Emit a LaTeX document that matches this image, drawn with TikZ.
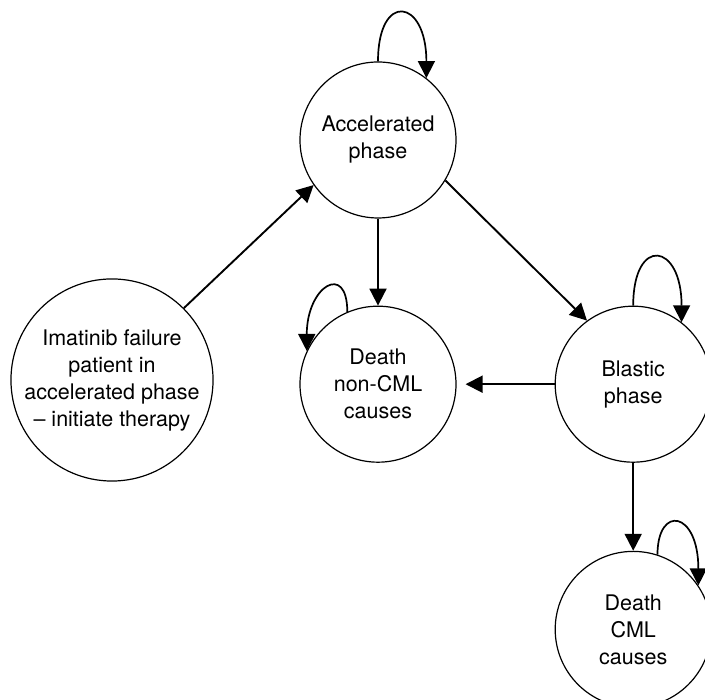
\documentclass[tikz,border=0pt]{standalone}
\usepackage{fontspec}
\setmainfont{TeX Gyre Heros}
\usepackage{tikz}
\usetikzlibrary{arrows.meta, positioning}

\begin{document}
\begin{tikzpicture}[
    x=1pt, y=1pt,
    % states and transitions
    state/.style={draw, circle, line width=1.2pt, minimum size=156pt, inner sep=0pt,
        align=center, font=\fontsize{21.5}{27}\selectfont},
    startstate/.style={state, minimum size=200pt},
    trans/.style={-{Triangle[length=17pt, width=17pt]}, line width=1.9pt},
    selfloop/.style={trans, line width=1.7pt}
]
    \useasboundingbox (0,0) rectangle (705,700);

    % Markov states
    \node[state] (accel) at (378,560) {Accelerated\\phase};
    \node[startstate] (imatinib) at (112,320) {Imatinib failure\\patient in\\accelerated phase\\-- initiate therapy};
    \node[state] (deathother) [below=87pt of accel] {Death\\non-CML\\causes};
    \node[state] (blastic) [right=98pt of deathother] {Blastic\\phase};
    \node[state] (deathcml) [below=88pt of blastic] {Death\\CML\\causes};

    % transitions between states
    \draw[trans] (imatinib.45) -- (accel.215);
    \draw[trans] (accel) -- (deathother);
    \draw[trans] (accel.-31) -- (blastic.126);
    \draw[trans, shorten >=9pt] (blastic) -- (deathother);
    \draw[trans] (blastic) -- (deathcml);

    % staying in the same state
    \draw[selfloop] (accel.90) .. controls +(0,70) and +(0,80) .. (accel.52);
    \draw[selfloop] (blastic.90) .. controls +(0,70) and +(0,80) .. (blastic.52);
    \draw[selfloop] (deathother.113) .. controls +(0,50) and +(0,65) .. (deathother.155);
    \draw[selfloop] (deathcml.72) .. controls +(0,50) and +(0,75) .. (deathcml.34);

\end{tikzpicture}
\end{document}
